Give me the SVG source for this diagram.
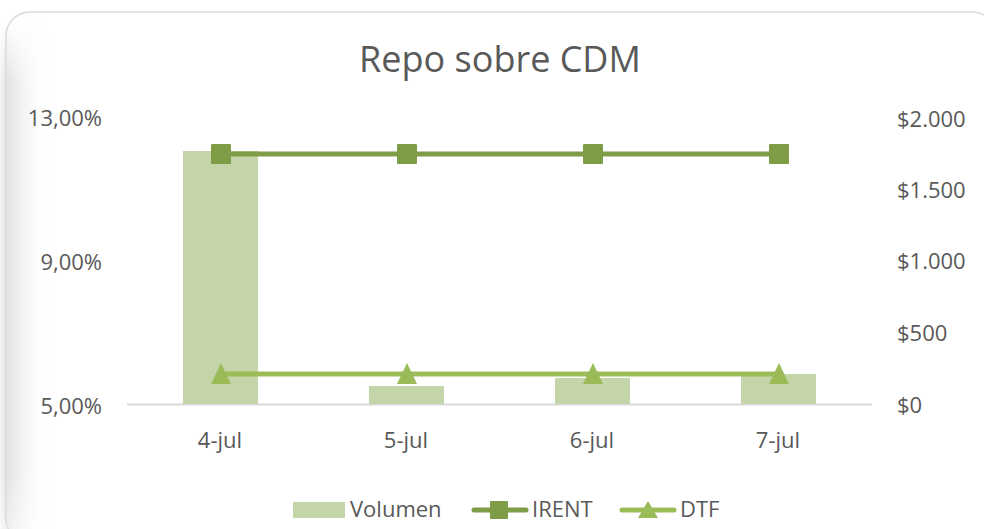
<svg xmlns="http://www.w3.org/2000/svg" width="984" height="529" viewBox="0 0 984 529">
<defs>
<style>
text{font-family:"Open Sans","Liberation Sans",sans-serif;fill:#595959;}
.ax{font-size:22px;}
.title{font-size:36px;}
.bar{fill:#C4D6A9;}
.irent{stroke:#7F9C47;stroke-width:5;fill:none;stroke-linecap:round;}
.dtf{stroke:#9BBB59;stroke-width:5;fill:none;stroke-linecap:round;}
.sq{fill:#7F9C47;}
.tri{fill:#9BBB59;}
</style>
<linearGradient id="shL" x1="0" y1="0" x2="1" y2="0">
<stop offset="0" stop-color="#E3E3E3"/>
<stop offset="1" stop-color="#FFFFFF" stop-opacity="0"/>
</linearGradient>
<linearGradient id="shO" x1="0" y1="0" x2="1" y2="0">
<stop offset="0" stop-color="#F4F4F4"/>
<stop offset="1" stop-color="#E0E0E0"/>
</linearGradient>
<linearGradient id="fadeV" x1="0" y1="0" x2="0" y2="1">
<stop offset="0" stop-color="#000000"/>
<stop offset="0.12" stop-color="#FFFFFF"/>
<stop offset="0.9" stop-color="#FFFFFF"/>
<stop offset="1" stop-color="#888888"/>
</linearGradient>
<mask id="m" maskUnits="userSpaceOnUse" x="0" y="20" width="60" height="509">
<rect x="0" y="20" width="60" height="509" fill="url(#fadeV)"/>
</mask>
</defs>
<rect x="0" y="0" width="984" height="529" fill="#FFFFFF"/>
<rect x="0" y="20" width="7" height="509" fill="url(#shO)" mask="url(#m)"/>
<rect x="6" y="12" width="990" height="530" rx="24" ry="24" fill="#FFFFFF" stroke="#D9D9D9" stroke-width="1.5"/>
<rect x="7" y="20" width="45" height="509" fill="url(#shL)" mask="url(#m)"/>
<text class="title" x="500" y="72" text-anchor="middle">Repo sobre CDM</text>
<g id="axes">
<line x1="127" y1="404.5" x2="872" y2="404.5" stroke="#D9D9D9" stroke-width="2"/>
<text class="ax" x="102" y="126" text-anchor="end">13,00%</text>
<text class="ax" x="102" y="270" text-anchor="end">9,00%</text>
<text class="ax" x="102" y="414" text-anchor="end">5,00%</text>
<text class="ax" x="897" y="127">$2.000</text>
<text class="ax" x="897" y="198">$1.500</text>
<text class="ax" x="897" y="269">$1.000</text>
<text class="ax" x="897" y="341">$500</text>
<text class="ax" x="897" y="413">$0</text>
<text class="ax" x="220" y="448" text-anchor="middle">4-jul</text>
<text class="ax" x="406" y="448" text-anchor="middle">5-jul</text>
<text class="ax" x="592" y="448" text-anchor="middle">6-jul</text>
<text class="ax" x="778" y="448" text-anchor="middle">7-jul</text>
</g>
<g id="bars">
<rect class="bar" x="183" y="151" width="75" height="253"/>
<rect class="bar" x="369" y="386" width="75" height="18"/>
<rect class="bar" x="555" y="378" width="75" height="26"/>
<rect class="bar" x="741" y="374" width="75" height="30"/>
</g>
<g id="connectors">
<polyline class="irent" points="221,154 407,154 593,154 779,154"/>
<polyline class="dtf" points="221,374 407,374 593,374 779,374"/>
</g>
<g id="irent-markers">
<rect class="sq" x="211" y="144" width="20" height="20" rx="1"/>
<rect class="sq" x="397" y="144" width="20" height="20" rx="1"/>
<rect class="sq" x="583" y="144" width="20" height="20" rx="1"/>
<rect class="sq" x="769" y="144" width="20" height="20" rx="1"/>
</g>
<g id="dtf-markers">
<polygon class="tri" points="221,363 231,384 211,384"/>
<polygon class="tri" points="407,363 417,384 397,384"/>
<polygon class="tri" points="593,363 603,384 583,384"/>
<polygon class="tri" points="779,363 789,384 769,384"/>
</g>
<g id="legend">
<rect class="bar" x="293" y="502" width="52" height="16"/>
<text class="ax" x="350" y="517">Volumen</text>
<line class="irent" x1="474" y1="510" x2="526" y2="510"/>
<rect class="sq" x="490" y="501" width="18" height="18" rx="1"/>
<text class="ax" x="532" y="517">IRENT</text>
<line class="dtf" x1="622" y1="510" x2="674" y2="510"/>
<polygon class="tri" points="648,501 658,518 638,518"/>
<text class="ax" x="680" y="517">DTF</text>
</g>
</svg>
